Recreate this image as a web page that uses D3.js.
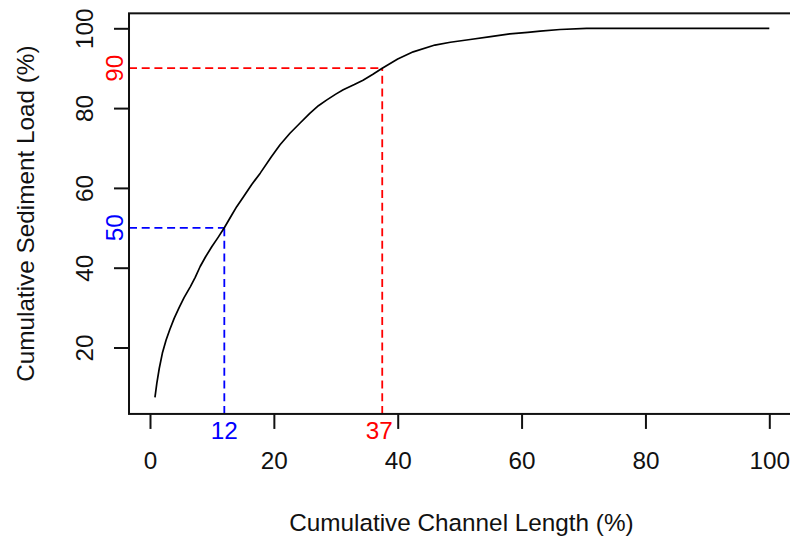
<!DOCTYPE html>
<html>
<head>
<meta charset="utf-8">
<script src="https://cdn.jsdelivr.net/npm/d3@7"></script>
<style>
  html, body { margin: 0; padding: 0; background: #fff; }
  svg { display: block; }
  text { font-family: "Liberation Sans", Arial, Helvetica, sans-serif; }
</style>
</head>
<body>
<script>
// ---- data ----
const channelLength = [0.8, 1.1, 1.5, 2.0, 2.6, 3.2, 3.9, 4.7, 5.5, 6.5, 7.3, 8.1, 9.0, 10.0, 11.0, 12.0, 13.2, 14.0, 15.1, 16.4, 17.8, 19.6, 21.0, 22.6, 24.2, 25.8, 27.2, 28.5, 30.0, 31.2, 33.0, 34.4, 36.0, 37.5, 40.0, 42.5, 46.0, 48.5, 51.7, 55.0, 58.1, 61.0, 63.0, 66.2, 70.5, 80, 90, 100];
const sedimentLoad = [7.5, 11.0, 14.8, 18.6, 21.9, 24.5, 27.3, 30.0, 32.5, 35.2, 37.6, 40.3, 42.8, 45.3, 47.6, 50.0, 53.2, 55.3, 57.8, 60.8, 63.7, 67.8, 70.8, 73.7, 76.2, 78.7, 80.6, 82.0, 83.5, 84.6, 85.9, 87.0, 88.5, 90.0, 92.3, 94.1, 95.8, 96.5, 97.2, 97.9, 98.6, 99.0, 99.3, 99.7, 100, 100, 100, 100];
const xTicks = [0, 20, 40, 60, 80, 100];
const yTicks = [20, 40, 60, 80, 100];
const markerNames = ["p50", "p90"];
const markerLineX = [12, 37.5];
const markerLineY = [50, 90];
const markerLabelX = ["12", "37"];
const markerLabelXPos = [12, 37];
const markerLabelY = ["50", "90"];
const markerColors = ["#0000FF", "#FF0000"];
const xLim = [-3.39, 103.97];
const yLim = [3.35, 103.75];
const xTitle = "Cumulative Channel Length (%)";
const yTitle = "Cumulative Sediment Load (%)";

// ---- layout ----
const W = 790, H = 537;
const x = d3.scaleLinear().domain([0, 100]).range([150, 769.3]);
const y = d3.scaleLinear().domain([0, 100]).range([427.3, 28.3]);
const fs = 24.3;

const svg = d3.select("body").append("svg").attr("width", W).attr("height", H);

const bx0 = x(xLim[0]), bx1 = x(xLim[1]), by0 = y(yLim[1]), by1 = y(yLim[0]);

// marker dashed lines
markerNames.forEach((n, i) => {
  const g = svg.append("g").attr("stroke", markerColors[i]).attr("stroke-width", 1.8)
    .attr("stroke-dasharray", "8,4.7").attr("fill", "none");
  g.append("line").attr("x1", bx0).attr("x2", x(markerLineX[i]))
    .attr("y1", y(markerLineY[i])).attr("y2", y(markerLineY[i]));
  g.append("line").attr("x1", x(markerLineX[i])).attr("x2", x(markerLineX[i]))
    .attr("y1", by1).attr("y2", y(markerLineY[i]));
});

// curve
const pts = channelLength.map((v, i) => [v, sedimentLoad[i]]);
svg.append("path").datum(pts)
  .attr("d", d3.line().x(d => x(d[0])).y(d => y(d[1])))
  .attr("fill", "none").attr("stroke", "#000").attr("stroke-width", 1.7)
  .attr("stroke-linejoin", "round");

// box
svg.append("rect").attr("x", bx0).attr("y", by0)
  .attr("width", bx1 - bx0).attr("height", by1 - by0)
  .attr("fill", "none").attr("stroke", "#111").attr("stroke-width", 2);

// x axis
const xAxis = d3.axisBottom(x).tickValues(xTicks).tickSize(15).tickPadding(22).tickSizeOuter(0);
const gx = svg.append("g").attr("transform", `translate(0,${by1})`).call(xAxis);
gx.select(".domain").remove();
gx.selectAll(".tick line").attr("stroke", "#111").attr("stroke-width", 2);
gx.selectAll(".tick text").attr("font-size", fs).attr("fill", "#111")
  .attr("font-family", "Liberation Sans, Arial, sans-serif").attr("dy", null)
  .attr("y", 469.5 - by1).attr("dominant-baseline", "auto");

// y axis
const yAxis = d3.axisLeft(y).tickValues(yTicks).tickSize(15).tickSizeOuter(0);
const gy = svg.append("g").attr("transform", `translate(${bx0},0)`).call(yAxis);
gy.select(".domain").remove();
gy.selectAll(".tick line").attr("stroke", "#111").attr("stroke-width", 2);
gy.selectAll(".tick text").attr("font-size", fs).attr("fill", "#111")
  .attr("font-family", "Liberation Sans, Arial, sans-serif")
  .attr("x", null).attr("dy", null).attr("text-anchor", "middle")
  .attr("transform", `translate(${93.3 - bx0},0) rotate(-90)`);

// marker labels
markerNames.forEach((n, i) => {
  svg.append("text").attr("x", x(markerLabelXPos[i])).attr("y", 438.5)
    .attr("text-anchor", "middle").attr("font-size", fs).attr("fill", markerColors[i])
    .text(markerLabelX[i]);
  svg.append("text")
    .attr("transform", `translate(123.3,${y(markerLineY[i])}) rotate(-90)`)
    .attr("text-anchor", "middle").attr("font-size", fs).attr("fill", markerColors[i])
    .text(markerLabelY[i]);
});

// titles
svg.append("text").attr("x", (bx0 + bx1) / 2).attr("y", 531)
  .attr("text-anchor", "middle").attr("font-size", fs).attr("fill", "#111").text(xTitle);
svg.append("text").attr("transform", `translate(33.5,${(by0 + by1) / 2}) rotate(-90)`)
  .attr("text-anchor", "middle").attr("font-size", fs).attr("fill", "#111").text(yTitle);
</script>
</body>
</html>
